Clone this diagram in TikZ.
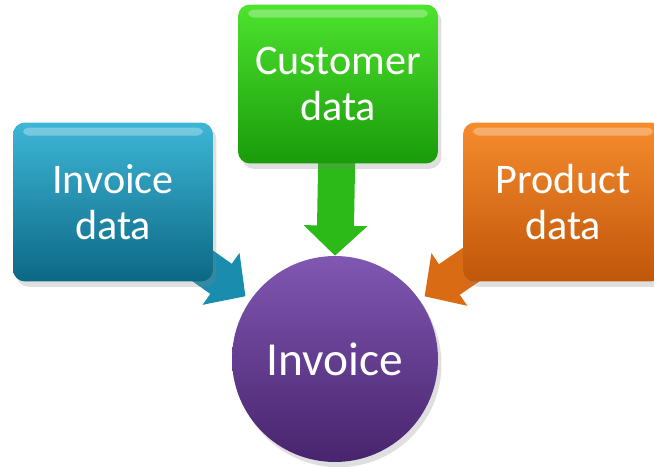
\documentclass[tikz,border=0pt]{standalone}
\usepackage{fontspec}
\setmainfont{Carlito}
\usetikzlibrary{arrows.meta,shadows,calc}

\definecolor{azulTopo}{HTML}{3EB6D6}
\definecolor{azulBase}{HTML}{0C6885}
\definecolor{azulSeta}{HTML}{1A8DAE}
\definecolor{verdeTopo}{HTML}{4DE32E}
\definecolor{verdeBase}{HTML}{1A9B0B}
\definecolor{verdeSeta}{HTML}{2CBA19}
\definecolor{laranjaTopo}{HTML}{F68C2D}
\definecolor{laranjaBase}{HTML}{C0560A}
\definecolor{laranjaSeta}{HTML}{D96B15}
\definecolor{roxoTopo}{HTML}{8057B2}
\definecolor{roxoBase}{HTML}{48246D}

\pgfdeclarelayer{background}
\pgfdeclarelayer{middle}
\pgfsetlayers{background,middle,main}

\begin{document}
\begin{tikzpicture}[
        x = 0.02cm, y = -0.02cm,
        % Estilo para as caixas de dados
        data box/.style = {
            rectangle,
            rounded corners = 0.24cm,
            minimum width = 4cm,
            minimum height = 3.18cm,
            align = center,
            text = white,
            font = \fontsize{24}{26.5}\selectfont,
            drop shadow = {opacity=0.25, shadow xshift=2pt, shadow yshift=-3pt},
            path picture = {
                \fill[white, opacity=0.3, rounded corners=3pt]
                    ($(path picture bounding box.north west)+(10,5)$) rectangle
                    ($(path picture bounding box.north east)+(-10,13)$);
            }
        },
        % Estilo do círculo central
        main node/.style = {
            circle,
            minimum size = 4.12cm,
            text = white,
            font = \fontsize{27}{30}\selectfont,
            top color = roxoTopo,
            bottom color = roxoBase,
            drop shadow = {opacity=0.25, shadow xshift=2pt, shadow yshift=-3pt}
        },
        % Estilo das setas largas
        big arrow/.style = {
            line width = 0.74cm,
            -{Triangle[length=0.6cm, width=1.24cm]}
        }
    ]
    \useasboundingbox (0,0) rectangle (654,467);

    % Caixas de dados
    \node[data box, top color=azulTopo, bottom color=azulBase] (invdata) at (113,202) {Invoice\\data};
    \node[data box, top color=verdeTopo, bottom color=verdeBase] (custdata) at (338,84) {Customer\\data};
    \node[data box, top color=laranjaTopo, bottom color=laranjaBase] (proddata) at (563,202) {Product\\data};

    % Círculo central
    \begin{pgfonlayer}{background}
        \node[main node] (inv) at (335,359) {Invoice};
    \end{pgfonlayer}

    % Setas
    \begin{pgfonlayer}{middle}
        \draw[big arrow, azulSeta, shorten >= 0.12cm] (invdata.center) -- (inv.145);
        \draw[big arrow, verdeSeta] (custdata.center) -- (inv.north);
        \draw[big arrow, laranjaSeta, shorten >= 0.12cm] (proddata.center) -- (inv.35);
    \end{pgfonlayer}
\end{tikzpicture}
\end{document}
